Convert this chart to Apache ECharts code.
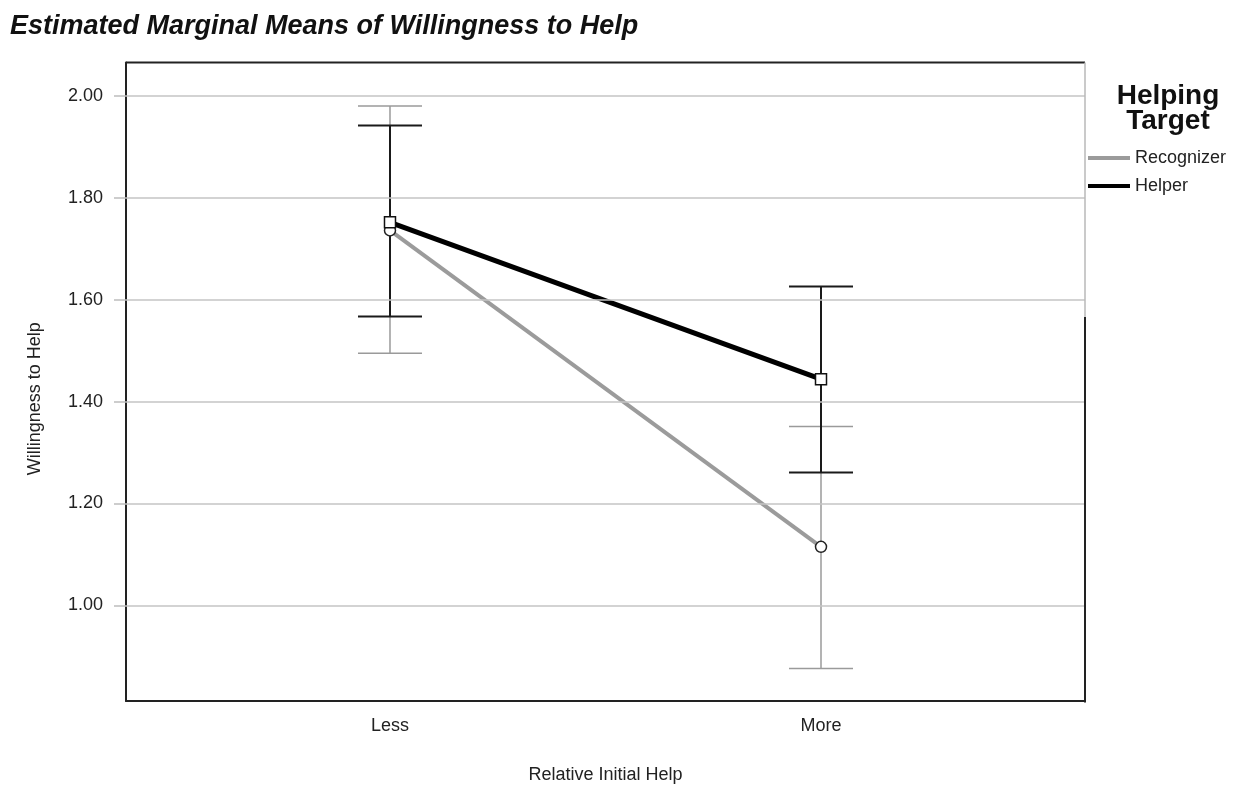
<!DOCTYPE html>
<html>
<head>
<meta charset="utf-8">
<script src="https://cdn.jsdelivr.net/npm/echarts@6/dist/echarts.min.js"></script>
<style>html,body{margin:0;padding:0;background:#fff}#c{width:1260px;height:790px}</style>
</head>
<body>
<div id="c"></div>
<script>
// ---- data ----
var categories = ['Less', 'More'];
var xPositions = [1, 2];
var recognizerMean = [1.736, 1.115];
var recognizerLow  = [1.495, 0.876];
var recognizerHigh = [1.980, 1.351];
var helperMean = [1.752, 1.444];
var helperLow  = [1.567, 1.261];
var helperHigh = [1.942, 1.626];
var yTicks = [1.00, 1.20, 1.40, 1.60, 1.80, 2.00];

// ---- layout ----
var G = {left: 126, right: 1085, top: 62.5, bottom: 702.5};
var FONT = '"Liberation Sans", Arial, sans-serif';

function pts(means) { return xPositions.map(function (x, i) { return [x, means[i]]; }); }
function bars(lo, hi) { return xPositions.map(function (x, i) { return [x, lo[i], hi[i]]; }); }

function errRender(color, width) {
  return function (params, api) {
    var x = api.value(0);
    var pLo = api.coord([x, api.value(1)]);
    var pHi = api.coord([x, api.value(2)]);
    var hw = 32;
    var st = {stroke: color, lineWidth: width};
    return {type: 'group', children: [
      {type: 'line', shape: {x1: pLo[0], y1: pLo[1], x2: pHi[0], y2: pHi[1]}, style: st},
      {type: 'line', shape: {x1: pHi[0] - hw, y1: pHi[1], x2: pHi[0] + hw, y2: pHi[1]}, style: st},
      {type: 'line', shape: {x1: pLo[0] - hw, y1: pLo[1], x2: pLo[0] + hw, y2: pLo[1]}, style: st}
    ]};
  };
}

var chart = echarts.init(document.getElementById('c'), null, {renderer: 'canvas'});
chart.setOption({
  animation: false,
  backgroundColor: '#fff',
  textStyle: {fontFamily: FONT},
  title: [
    {text: 'Estimated Marginal Means of Willingness to Help', left: 10, top: 12, padding: 0,
     textStyle: {fontFamily: FONT, fontSize: 27, fontWeight: 'bold', fontStyle: 'italic', color: '#111', lineHeight: 30}},
    {text: 'Helping\nTarget', left: 1168, top: 84, padding: 0, textAlign: 'center',
     textStyle: {fontFamily: FONT, fontSize: 28, fontWeight: 'bold', color: '#111', lineHeight: 25}}
  ],
  legend: {
    orient: 'vertical', left: 1088, top: 148, padding: 0, itemWidth: 42, itemHeight: 4, itemGap: 8,
    textStyle: {fontFamily: FONT, fontSize: 18, color: '#222', lineHeight: 20},
    data: [
      {name: 'Recognizer', icon: 'rect', itemStyle: {color: '#9b9b9b', borderWidth: 0}},
      {name: 'Helper', icon: 'rect', itemStyle: {color: '#000', borderWidth: 0}}
    ]
  },
  grid: {left: G.left, top: G.top, width: G.right - G.left, height: G.bottom - G.top, show: false},
  xAxis: {
    type: 'value', min: 0.3875, max: 2.6125,
    name: 'Relative Initial Help', nameLocation: 'middle', nameGap: 64,
    nameTextStyle: {fontFamily: FONT, fontSize: 18, color: '#222', lineHeight: 20},
    axisLine: {show: true, lineStyle: {color: '#222', width: 2}},
    axisTick: {show: false},
    splitLine: {show: false},
    axisLabel: {customValues: xPositions, margin: 15, fontFamily: FONT, fontSize: 18, color: '#222', lineHeight: 20,
      formatter: function (v) { var i = xPositions.indexOf(Math.round(v)); return i >= 0 ? categories[i] : ''; }}
  },
  yAxis: {
    type: 'value', min: 0.8124, max: 2.0656,
    name: 'Willingness to Help', nameLocation: 'middle', nameGap: 81, nameRotate: 90,
    nameTextStyle: {fontFamily: FONT, fontSize: 18, color: '#222', lineHeight: 20, padding: [0, 34, 0, 0]},
    axisLine: {show: true, lineStyle: {color: '#222', width: 2}},
    axisTick: {show: true, customValues: yTicks, length: 12, lineStyle: {color: '#bdbdbd', width: 1.5}},
    splitLine: {show: false},
    axisLabel: {customValues: yTicks, margin: 23, fontFamily: FONT, fontSize: 18, color: '#222',
      formatter: function (v) { return v.toFixed(2); }}
  },
  series: [
    {name: 'grid', type: 'line', data: [], z: 0, silent: true,
     markLine: {silent: true, symbol: 'none', label: {show: false},
       lineStyle: {type: 'solid', color: '#c4c4c4', width: 1.5},
       data: yTicks.map(function (t) { return {yAxis: t}; })}},
    {name: 'Recognizer CI', type: 'custom', z: 1, renderItem: errRender('#9a9a9a', 1.5),
     data: bars(recognizerLow, recognizerHigh), encode: {x: 0, y: [1, 2]}},
    {name: 'Helper CI', type: 'custom', z: 2, renderItem: errRender('#1a1a1a', 2),
     data: bars(helperLow, helperHigh), encode: {x: 0, y: [1, 2]}},
    {name: 'Recognizer', type: 'line', z: 3, data: pts(recognizerMean),
     symbol: 'circle', symbolSize: 11, showAllSymbol: true,
     lineStyle: {color: '#9b9b9b', width: 4},
     itemStyle: {color: '#fff', borderColor: '#222', borderWidth: 1.5}},
    {name: 'Helper', type: 'line', z: 4, data: pts(helperMean),
     symbol: 'rect', symbolSize: 11, showAllSymbol: true,
     lineStyle: {color: '#000', width: 5},
     itemStyle: {color: '#fff', borderColor: '#111', borderWidth: 1.5}}
  ],
  graphic: [
    {type: 'line', shape: {x1: G.left, y1: G.top, x2: G.right, y2: G.top}, style: {stroke: '#222', lineWidth: 2}, z: 10},
    {type: 'line', shape: {x1: G.right, y1: G.top, x2: G.right, y2: 317}, style: {stroke: '#b8b8b8', lineWidth: 1.5}, z: 10},
    {type: 'line', shape: {x1: G.right, y1: 317, x2: G.right, y2: G.bottom}, style: {stroke: '#222', lineWidth: 2}, z: 10}
  ]
});
</script>
</body>
</html>
